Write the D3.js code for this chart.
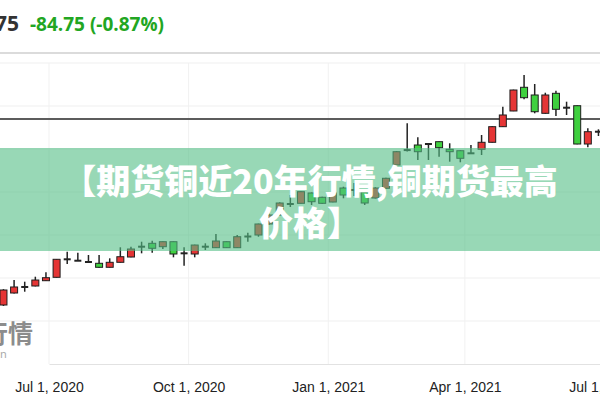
<!DOCTYPE html>
<html>
<head>
<meta charset="utf-8">
<script src="https://cdnjs.cloudflare.com/ajax/libs/d3/7.8.5/d3.min.js"></script>
<style>
  body { margin: 0; background: #fff; }
  svg { display: block; }
</style>
</head>
<body>
<svg id="chart"></svg>
<script>
// weekly copper candles (USD/t)
const weeks = [
  "2020-06-01","2020-06-08","2020-06-15","2020-06-22","2020-06-29","2020-07-06","2020-07-13","2020-07-20",
  "2020-07-27","2020-08-03","2020-08-10","2020-08-17","2020-08-24","2020-08-31","2020-09-07","2020-09-14",
  "2020-09-21","2020-09-28","2020-10-05","2020-10-12","2020-10-19","2020-10-26","2020-11-02","2020-11-09",
  "2020-11-16","2020-11-23","2020-11-30","2020-12-07","2020-12-14","2020-12-21","2020-12-28","2021-01-04",
  "2021-01-11","2021-01-18","2021-01-25","2021-02-01","2021-02-08","2021-02-15","2021-02-22","2021-03-01",
  "2021-03-08","2021-03-15","2021-03-22","2021-03-29","2021-04-05","2021-04-12","2021-04-19","2021-04-26",
  "2021-05-03","2021-05-10","2021-05-17","2021-05-24","2021-05-31","2021-06-07","2021-06-14","2021-06-21",
  "2021-06-28"
];
const opens = [
  5372,5651,5791,5814,5937,6016,6435,6402,6372,6342,6249,6365,6488,6728,6807,6728,
  6844,6574,6558,6728,6705,6844,6705,6965,7000,7256,7465,7721,7737,7977,7877,7767,
  8093,8047,8000,7860,8086,8628,8970,9093,9116,9170,8993,8960,8900,8993,9156,9519,
  9884,10435,10256,9830,10295,9960,10007,9116,9402
];
const highs = [
  5740,5953,5914,6030,6133,6440,6612,6588,6535,6535,6458,6714,6728,6844,6867,6850,
  6850,6714,6775,6807,7023,6850,7000,7053,7265,7500,7760,7930,8020,7990,7890,7990,
  8123,8209,8010,8110,8330,8950,9598,9272,9125,9175,9133,8970,9093,9326,9530,9984,
  10380,10721,10512,10309,10356,10100,10010,9481,9458
];
const lows = [
  5350,5640,5681,5805,5930,6010,6326,6395,6365,6240,6245,6360,6480,6574,6588,6674,
  6481,6286,6481,6651,6700,6700,6700,6844,6960,7240,7450,7651,7730,7698,7725,7760,
  7853,7907,7698,7850,8080,8620,8940,8744,8744,8821,8705,8691,8895,8860,9150,9510,
  9880,10156,9830,9820,9767,9791,9110,9040,9302
];
const closes = [
  5721,5791,5791,5953,6007,6435,6435,6402,6372,6249,6365,6495,6674,6728,6691,6844,
  6558,6574,6767,6728,6860,6705,6960,6965,7256,7465,7744,7721,8007,7774,7737,7977,
  7930,8047,7744,8093,8319,8937,8975,8937,9116,9030,8937,8784,8900,9156,9519,9791,
  10372,10193,9867,10256,9923,9960,9116,9402,9402
];
const prevClose = 9698.5;
const lastPrice = "9,613.75";
const changeText = "-84.75 (-0.87%)";
const priceGrid = [5000, 6000, 7000, 8000, 9000, 10000, 11000];
const tickDates = ["2020-07-01", "2020-10-01", "2021-01-01", "2021-04-01", "2021-07-01"];
const titleLines = ["【期货铜近20年行情,铜期货最高", "价格】"];

const width = 600, height = 400;
const parse = d3.timeParse("%Y-%m-%d");

const svg = d3.select('#chart')
  .attr('width', width)
  .attr('height', height)
  .attr('viewBox', `0 0 ${width} ${height}`);

const x = d3.scaleTime()
  .domain([parse("2020-07-01"), parse("2021-07-01")])
  .range([49, 603]);

const y = d3.scaleLinear()
  .domain([4000, 11000])
  .range([364, 63]);

// top separator
svg.append('line')
  .attr('x1', 0).attr('x2', width).attr('y1', 53).attr('y2', 53)
  .attr('stroke', '#cfcfcf').attr('stroke-width', 1.5);

// grid
svg.append('g').selectAll('line').data(priceGrid).enter().append('line')
  .attr('x1', 0).attr('x2', width)
  .attr('y1', d => y(d)).attr('y2', d => y(d))
  .attr('stroke', '#efefef');

svg.append('g').selectAll('line').data(tickDates.map(parse)).enter().append('line')
  .attr('x1', d => x(d)).attr('x2', d => x(d))
  .attr('y1', y(11000)).attr('y2', y(4000))
  .attr('stroke', '#f1f1f1');

// x axis
const xAxis = d3.axisBottom(x)
  .tickValues(tickDates.map(parse))
  .tickFormat(d3.timeFormat("%b %-d, %Y"))
  .tickSize(0)
  .tickPadding(18);

const axisG = svg.append('g')
  .attr('transform', `translate(0, ${y(4000)})`)
  .call(xAxis);
axisG.select('.domain').attr('stroke', '#e2e2e2');
axisG.selectAll('text')
  .attr('fill', '#222')
  .attr('font-family', 'Liberation Sans, Arial, sans-serif')
  .attr('font-size', '14px');

// watermark bottom-left
svg.append('text')
  .text('行情')
  .attr('x', 33).attr('y', 343)
  .attr('text-anchor', 'end')
  .attr('font-family', 'Noto Sans CJK SC')
  .attr('font-weight', 700)
  .attr('font-size', '25px')
  .attr('fill', '#8c8c8c');
svg.append('text')
  .text('n')
  .attr('x', 0).attr('y', 358)
  .attr('font-family', 'Noto Sans')
  .attr('font-size', '11px')
  .attr('fill', '#aaa');

// previous close line
svg.append('line')
  .attr('x1', 0).attr('x2', width)
  .attr('y1', y(prevClose)).attr('y2', y(prevClose))
  .attr('stroke', '#5c5c5c').attr('stroke-width', 2);

// candles
const candles = weeks.map((w, i) => ({
  date: parse(w), o: opens[i], h: highs[i], l: lows[i], c: closes[i]
}));
const bodyW = 7;

const cg = svg.append('g').selectAll('g').data(candles).enter().append('g');

cg.append('line')
  .attr('x1', d => x(d.date)).attr('x2', d => x(d.date))
  .attr('y1', d => y(d.h)).attr('y2', d => y(d.l))
  .attr('stroke', '#222').attr('stroke-width', 1.5);

cg.append('rect')
  .attr('x', d => x(d.date) - bodyW / 2)
  .attr('width', bodyW)
  .attr('y', d => {
    const hgt = Math.abs(y(d.o) - y(d.c));
    return hgt < 1.5 ? y(d.c) - 1 : y(Math.max(d.o, d.c));
  })
  .attr('height', d => {
    const hgt = Math.abs(y(d.o) - y(d.c));
    return hgt < 1.5 ? 2 : hgt;
  })
  .attr('fill', d => {
    const hgt = Math.abs(y(d.o) - y(d.c));
    if (hgt < 1.5) return '#222';
    return d.c > d.o ? '#e53535' : '#3fd03f';
  })
  .attr('stroke', d => Math.abs(y(d.o) - y(d.c)) < 1.5 ? 'none' : '#1e1e1e')
  .attr('stroke-width', 1);

// header
svg.append('text')
  .text(lastPrice)
  .attr('x', 19).attr('y', 31)
  .attr('text-anchor', 'end')
  .attr('font-family', 'Open Sans')
  .attr('font-weight', 700)
  .attr('font-size', '21px')
  .attr('fill', '#333');
svg.append('text')
  .text(changeText)
  .attr('x', 30).attr('y', 31)
  .attr('font-family', 'Open Sans')
  .attr('font-weight', 700)
  .attr('font-size', '19px')
  .attr('fill', '#22a622');

// banner
svg.append('rect')
  .attr('x', 0).attr('y', 148)
  .attr('width', width).attr('height', 103)
  .attr('fill', 'rgba(83,190,133,0.6)');

svg.append('g').selectAll('text').data(titleLines).enter().append('text')
  .text(d => d)
  .attr('x', 310)
  .attr('y', (d, i) => 179 + i * 42)
  .attr('text-anchor', 'middle')
  .attr('dominant-baseline', 'central')
  .attr('font-family', 'Noto Sans CJK SC')
  .attr('font-weight', 900)
  .attr('font-size', '34px')
  .attr('fill', '#fff');
</script>
</body>
</html>
